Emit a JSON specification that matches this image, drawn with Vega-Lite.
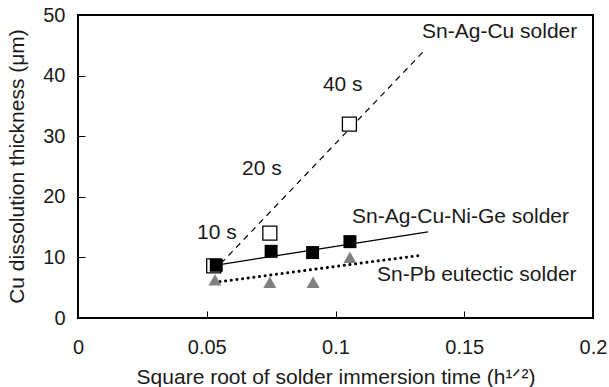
{
  "$schema": "https://vega.github.io/schema/vega-lite/v6.json",
  "width": 515,
  "height": 303,
  "autosize": {"type": "none"},
  "padding": {"left": 78, "top": 15, "right": 16, "bottom": 69},
  "background": "white",
  "config": {
    "font": "Liberation Sans",
    "view": {"stroke": "black", "strokeWidth": 2},
    "axis": {
      "domain": false,
      "grid": false,
      "tickColor": "black",
      "tickWidth": 1,
      "tickSize": -7,
      "labelFont": "Liberation Sans",
      "labelFontSize": 20,
      "labelColor": "#1a1a1a",
      "titleFont": "Liberation Sans",
      "titleFontSize": 21,
      "titleFontWeight": "normal",
      "titleColor": "#1a1a1a"
    }
  },
  "datasets": {
    "points": [
      {"series": "Sn-Ag-Cu", "x": 0.0527, "y": 8.6},
      {"series": "Sn-Ag-Cu", "x": 0.0745, "y": 14.0},
      {"series": "Sn-Ag-Cu", "x": 0.1054, "y": 32.0},
      {"series": "Sn-Ag-Cu-Ni-Ge", "x": 0.0537, "y": 8.7},
      {"series": "Sn-Ag-Cu-Ni-Ge", "x": 0.0750, "y": 11.0},
      {"series": "Sn-Ag-Cu-Ni-Ge", "x": 0.0911, "y": 10.8},
      {"series": "Sn-Ag-Cu-Ni-Ge", "x": 0.1056, "y": 12.6},
      {"series": "Sn-Pb", "x": 0.0532, "y": 6.3},
      {"series": "Sn-Pb", "x": 0.0745, "y": 5.9},
      {"series": "Sn-Pb", "x": 0.0913, "y": 5.9},
      {"series": "Sn-Pb", "x": 0.1056, "y": 10.0}
    ],
    "lines": [
      {"series": "Sn-Ag-Cu", "x": 0.0555, "y": 9.0},
      {"series": "Sn-Ag-Cu", "x": 0.1351, "y": 44.4},
      {"series": "Sn-Ag-Cu-Ni-Ge", "x": 0.0563, "y": 8.9},
      {"series": "Sn-Ag-Cu-Ni-Ge", "x": 0.1359, "y": 14.2},
      {"series": "Sn-Pb", "x": 0.0551, "y": 6.0},
      {"series": "Sn-Pb", "x": 0.1340, "y": 10.4}
    ],
    "labels": [
      {"text": "Sn-Ag-Cu solder", "x": 0.1336, "y": 47.2},
      {"text": "Sn-Ag-Cu-Ni-Ge solder", "x": 0.1064, "y": 16.7},
      {"text": "Sn-Pb eutectic solder", "x": 0.1161, "y": 7.1},
      {"text": "40 s", "x": 0.0951, "y": 38.4},
      {"text": "20 s", "x": 0.0637, "y": 24.6},
      {"text": "10 s", "x": 0.0462, "y": 14.0}
    ]
  },
  "encoding": {
    "x": {
      "field": "x",
      "type": "quantitative",
      "scale": {"domain": [0, 0.2], "nice": false, "zero": false},
      "axis": {
        "values": [0, 0.05, 0.1, 0.15, 0.2],
        "format": "~g",
        "labelPadding": 26,
        "labelFlush": false,
        "title": "Square root of solder immersion time (h¹ᐟ²)",
        "titleBaseline": "alphabetic",
        "titleY": 65
      }
    },
    "y": {
      "field": "y",
      "type": "quantitative",
      "scale": {"domain": [0, 50], "nice": false},
      "axis": {
        "values": [0, 10, 20, 30, 40, 50],
        "labelPadding": 20,
        "labelFlush": false,
        "title": "Cu dissolution thickness (μm)",
        "titleBaseline": "middle",
        "titleX": -61,
        "titleY": 151
      }
    }
  },
  "layer": [
    {
      "data": {"name": "lines"},
      "transform": [{"filter": "datum.series === 'Sn-Ag-Cu'"}],
      "mark": {"type": "line", "color": "black", "strokeWidth": 1.2, "strokeDash": [6, 5]}
    },
    {
      "data": {"name": "lines"},
      "transform": [{"filter": "datum.series === 'Sn-Ag-Cu-Ni-Ge'"}],
      "mark": {"type": "line", "color": "black", "strokeWidth": 1.3}
    },
    {
      "data": {"name": "lines"},
      "transform": [{"filter": "datum.series === 'Sn-Pb'"}],
      "mark": {"type": "line", "color": "black", "strokeWidth": 3, "strokeCap": "round", "strokeDash": [0.1, 5.6]}
    },
    {
      "data": {"name": "points"},
      "transform": [{"filter": "datum.series === 'Sn-Pb'"}],
      "mark": {"type": "point", "shape": "triangle-up", "filled": true, "color": "#808080", "opacity": 1, "size": 169}
    },
    {
      "data": {"name": "points"},
      "transform": [{"filter": "datum.series === 'Sn-Ag-Cu'"}],
      "mark": {"type": "point", "shape": "square", "filled": true, "fill": "white", "stroke": "black", "strokeWidth": 1.3, "opacity": 1, "size": 196}
    },
    {
      "data": {"name": "points"},
      "transform": [{"filter": "datum.series === 'Sn-Ag-Cu-Ni-Ge'"}],
      "mark": {"type": "point", "shape": "square", "filled": true, "color": "black", "opacity": 1, "size": 169}
    },
    {
      "data": {"name": "labels"},
      "mark": {"type": "text", "align": "left", "baseline": "middle", "fontSize": 21, "color": "#1a1a1a", "font": "Liberation Sans"},
      "encoding": {"text": {"field": "text", "type": "nominal"}}
    }
  ]
}
